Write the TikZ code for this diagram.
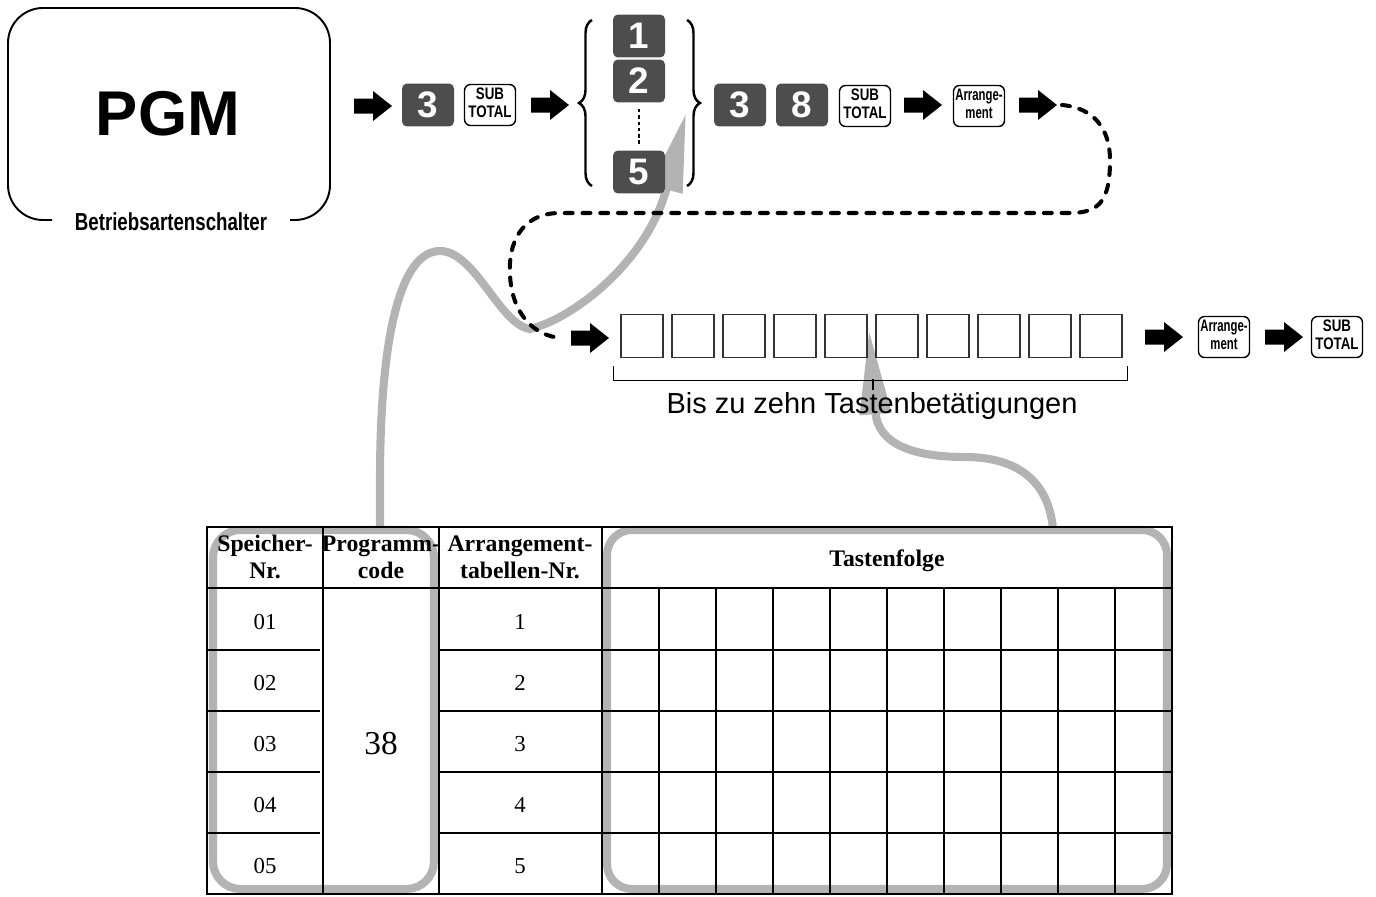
\documentclass[tikz,border=0pt]{standalone}
\usepackage{fontspec}
\setmainfont{Liberation Serif}
\newfontfamily\arial{Liberation Sans}
\usetikzlibrary{arrows.meta,calc,decorations.pathreplacing,positioning}
\definecolor{keygray}{RGB}{77,77,77}
\definecolor{hilite}{RGB}{179,179,179}
\newcommand{\keycap}[3][0.8]{\scalebox{#1}[1]{\begin{tabular}{@{}c@{}}#2\\#3\end{tabular}}}
\tikzset{
  numkey/.style={fill=keygray, rounded corners=0.1cm, minimum width=1.04cm, minimum height=0.86cm,
    inner sep=0pt, text=white, font=\arial\bfseries\fontsize{21}{21}\selectfont},
  fnkey/.style={draw, line width=0.8pt, rounded corners=0.12cm, minimum width=1.02cm, minimum height=0.82cm,
    inner sep=0pt, font=\arial\bfseries\fontsize{9.5}{10.2}\selectfont},
  slot/.style={draw=black!80, line width=0.6pt, minimum width=0.84cm, minimum height=0.86cm, inner sep=0pt},
  brace/.style={decorate, decoration={brace, amplitude=0.26cm}, line width=1.4pt},
  dotline/.style={line width=1pt, dash pattern=on 2pt off 1.6pt},
  dashline/.style={line width=2.3pt, dash pattern=on 4.5pt off 5.6pt, line cap=round},
  grayline/.style={draw=hilite, line width=4.6pt},
  thead/.style={font=\bfseries\fontsize{13.5}{15.5}\selectfont, align=center},
  tcell/.style={font=\fontsize{13}{15}\selectfont},
  blkarrow/.pic={
    \fill (0,-7.5) -- (19,-7.5) -- (19,-15) -- (38,0) -- (19,15) -- (19,7.5) -- (0,7.5) -- cycle;
    \coordinate (-tail) at (0,0);
    \coordinate (-tip) at (38,0);
  }
}

\begin{document}
\begin{tikzpicture}[x=0.02cm, y=-0.02cm]
  \useasboundingbox (0,0) rectangle (1376,896);

  % grey highlights in the table and their pointers
  \draw[grayline, rounded corners=0.55cm] (213,530) rectangle (434,889);
  \draw[grayline, rounded corners=0.5cm] (607,530) rectangle (1167,889);
  \coordinate (hl1) at (380,529);
  \coordinate (hl2) at (1053,529);
  \coordinate (tipA) at (686,113);
  \coordinate (tipB) at (869,330);
  \draw[grayline, -{Triangle[length=45pt, width=18pt]}] (hl1) -- (380,480)
    .. controls (380,330) and (402,251) .. (440,251)
    .. controls (475,251) and (500,325) .. (530,329)
    .. controls (575,318) and (648,260) .. (tipA);
  \draw[grayline, -{Triangle[length=48pt, width=17pt]}] (hl2)
    .. controls (1048,475) and (1010,457) .. (965,457)
    .. controls (915,457) and (878,445) .. (tipB);

  % mode switch
  \draw[line width=1.1pt, rounded corners=0.7cm] (52,220) -- (8,220) -- (8,8) -- (330,8) -- (330,220) -- (290,220);
  \node[font=\arial\bfseries\fontsize{36}{36}\selectfont] (pgm) at (168,114) {PGM};
  \node[font=\arial\bfseries\fontsize{14}{14}\selectfont] (mode) at (171,222) {\scalebox{0.76}[1]{Betriebsartenschalter}};

  % first key row
  \pic (a1) at (354,106) {blkarrow};
  \node[numkey] (k3) at (428,105) {3};
  \node[fnkey] (st1) at (490,105) {\keycap{SUB}{TOTAL}};
  \pic (a2) at (531,105) {blkarrow};
  \draw[brace] (592,186) -- (592,20);
  \node[numkey] (n1) at (639,36) {1};
  \node[numkey] (n2) at (639,81) {2};
  \node[numkey] (n5) at (639,172) {5};
  \draw[dotline] ($(n2.south)+(0,6)$) -- ($(n5.north)+(0,-6)$);
  \draw[brace] (687,20) -- (687,186);
  \node[numkey] (k3b) at (740,105) {3};
  \node[numkey] (k8) at (802,105) {8};
  \node[fnkey] (st2) at (865,106) {\keycap{SUB}{TOTAL}};
  \pic (a3) at (904,105) {blkarrow};
  \node[fnkey] (ar1) at (979,106) {\keycap[0.68]{Arrange-}{ment}};
  \pic (a4) at (1019,105) {blkarrow};

  % second key row
  \pic (a5) at (571,338) {blkarrow};
  \foreach \i in {1,...,10}
    \node[slot] (b\i) at ({642+51*(\i-1)},336) {};
  \pic (a6) at (1145,337) {blkarrow};
  \node[fnkey] (ar2) at (1224,337) {\keycap[0.68]{Arrange-}{ment}};
  \pic (a7) at (1265,337) {blkarrow};
  \node[fnkey] (st3) at (1337,337) {\keycap{SUB}{TOTAL}};

  \draw[dashline] ($(a4-tip)+(5,0)$) .. controls (1095,108) and (1110,130) .. (1110,160)
    .. controls (1110,200) and (1100,213) .. (1070,213) -- (560,213)
    .. controls (520,213) and (508,245) .. (510,275)
    .. controls (512,315) and (535,336) .. ($(a5-tail)+(-10,0)$);

  \draw[line width=0.6pt] ($(b1.south west)+(-7,8)$) -- ++(0,14) -| ($(b10.south east)+(5,8)$);
  \coordinate (brmid) at (873,379);
  \draw[line width=0.6pt] (brmid) -- ++(0,11);
  \node[font=\arial\fontsize{16.5}{16.5}\selectfont] (cap) at (872,406) {Bis zu zehn Tastenbetätigungen};

  % table
  \draw[line width=1.2pt] (207,527) rectangle (1172,894);
  \draw[line width=1.2pt] (207,588) -- (1172,588);
  \draw[line width=0.7pt] (323,527) -- (323,894);
  \draw[line width=1pt] (439,527) -- (439,894);
  \draw[line width=1.6pt] (602,527) -- (602,894);
  \foreach \y in {650,711,772,833} {
    \draw[line width=0.7pt] (207,\y) -- (320,\y);
    \draw[line width=0.7pt] (439,\y) -- (1172,\y);
  }
  \foreach \k in {1,...,9}
    \draw[line width=0.7pt] ({602+57*\k},588) -- ({602+57*\k},894);

  \node[thead] (t1) at (265,557) {Speicher-\\Nr.};
  \node[thead] (t2) at (381,557) {Programm-\\code};
  \node[thead] (t3) at (520,557) {Arrangement-\\tabellen-Nr.};
  \node[thead] (t4) at (887,561) {Tastenfolge};
  \foreach \n in {1,...,5} {
    \node[tcell] (s\n) at (265,{622+61*(\n-1)}) {0\n};
    \node[tcell] (r\n) at (520,{622+61*(\n-1)}) {\n};
  }
  \node[font=\fontsize{19}{19}\selectfont] (code) at (381,744) {38};
\end{tikzpicture}
\end{document}
